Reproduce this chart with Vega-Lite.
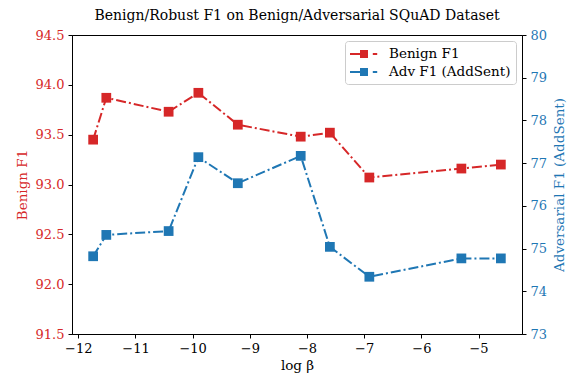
{
  "$schema": "https://vega.github.io/schema/vega-lite/v6.json",
  "autosize": "none",
  "width": 450,
  "height": 299,
  "padding": {"left": 72, "top": 35, "right": 59, "bottom": 54},
  "background": "white",
  "title": {"text": "Benign/Robust F1 on Benign/Adversarial SQuAD Dataset", "font": "DejaVu Serif", "fontSize": 14, "fontWeight": "normal", "color": "black", "offset": 6},
  "config": {
    "font": "DejaVu Serif",
    "view": {"stroke": "black", "strokeWidth": 1},
    "axis": {"grid": false, "domainColor": "black", "tickColor": "black", "tickSize": 4, "labelPadding": 4, "labelFont": "DejaVu Serif", "titleFont": "DejaVu Serif", "labelFontSize": 13, "titleFontSize": 13.5, "titleFontWeight": "normal", "labelColor": "black", "titleColor": "black"}
  },
  "data": {"values": [
    {"x": -11.74, "series": "Benign F1", "v": 93.45},
    {"x": -11.51, "series": "Benign F1", "v": 93.87},
    {"x": -10.42, "series": "Benign F1", "v": 93.73},
    {"x": -9.90, "series": "Benign F1", "v": 93.92},
    {"x": -9.21, "series": "Benign F1", "v": 93.60},
    {"x": -8.11, "series": "Benign F1", "v": 93.48},
    {"x": -7.60, "series": "Benign F1", "v": 93.52},
    {"x": -6.91, "series": "Benign F1", "v": 93.07},
    {"x": -5.30, "series": "Benign F1", "v": 93.16},
    {"x": -4.61, "series": "Benign F1", "v": 93.20},
    {"x": -11.74, "series": "Adv F1 (AddSent)", "v": 74.82},
    {"x": -11.51, "series": "Adv F1 (AddSent)", "v": 75.32},
    {"x": -10.42, "series": "Adv F1 (AddSent)", "v": 75.41},
    {"x": -9.90, "series": "Adv F1 (AddSent)", "v": 77.14},
    {"x": -9.21, "series": "Adv F1 (AddSent)", "v": 76.53},
    {"x": -8.11, "series": "Adv F1 (AddSent)", "v": 77.17},
    {"x": -7.60, "series": "Adv F1 (AddSent)", "v": 75.04},
    {"x": -6.91, "series": "Adv F1 (AddSent)", "v": 74.34},
    {"x": -5.30, "series": "Adv F1 (AddSent)", "v": 74.77},
    {"x": -4.61, "series": "Adv F1 (AddSent)", "v": 74.77}
  ]},
  "encoding": {
    "x": {"field": "x", "type": "quantitative", "scale": {"domain": [-12.11, -4.24], "nice": false, "zero": false},
      "axis": {"values": [-12, -11, -10, -9, -8, -7, -6, -5], "title": "log β", "titlePadding": 3}},
    "color": {"field": "series", "type": "nominal",
      "scale": {"domain": ["Benign F1", "Adv F1 (AddSent)"], "range": ["#d62728", "#1f77b4"]},
      "legend": {"title": null, "orient": "top-right", "offset": 6, "fillColor": "white", "strokeColor": "#cccccc", "cornerRadius": 3, "padding": 5,
        "labelFont": "DejaVu Serif", "labelFontSize": 13.5, "labelColor": "black", "rowPadding": 3, "labelOffset": 23,
        "symbolType": "M -1.0 -0.12 L 0.25 -0.12 L 0.25 0.12 L -1.0 0.12 Z M 0.25 -0.5 L 1.25 -0.5 L 1.25 0.5 L 0.25 0.5 Z M 1.85 -0.12 L 2.4 -0.12 L 2.4 0.12 L 1.85 0.12 Z",
        "symbolSize": 256, "symbolStrokeWidth": 0, "symbolOpacity": 1}}
  },
  "layer": [
    {
      "transform": [{"filter": "datum.series === 'Benign F1'"}],
      "encoding": {
        "y": {"field": "v", "type": "quantitative", "scale": {"domain": [91.5, 94.5], "nice": false, "zero": false},
          "axis": {"orient": "left", "values": [91.5, 92, 92.5, 93, 93.5, 94, 94.5], "format": ".1f", "title": "Benign F1", "titleColor": "#d62728", "labelColor": "#d62728", "titlePadding": 6}}
      },
      "layer": [
        {"mark": {"type": "line", "strokeWidth": 2, "strokeDash": [10, 3, 2, 3]}},
        {"mark": {"type": "point", "shape": "square", "filled": true, "size": 95, "opacity": 1}}
      ]
    },
    {
      "transform": [{"filter": "datum.series === 'Adv F1 (AddSent)'"}],
      "encoding": {
        "y": {"field": "v", "type": "quantitative", "scale": {"domain": [73, 80], "nice": false, "zero": false},
          "axis": {"orient": "right", "values": [73, 74, 75, 76, 77, 78, 79, 80], "title": "Adversarial F1 (AddSent)", "titleColor": "#1f77b4", "labelColor": "#1f77b4", "titlePadding": 6, "titleAngle": 270, "titleBaseline": "top"}}
      },
      "layer": [
        {"mark": {"type": "line", "strokeWidth": 2, "strokeDash": [10, 3, 2, 3]}},
        {"mark": {"type": "point", "shape": "square", "filled": true, "size": 95, "opacity": 1}}
      ]
    }
  ],
  "resolve": {"scale": {"y": "independent"}}
}
